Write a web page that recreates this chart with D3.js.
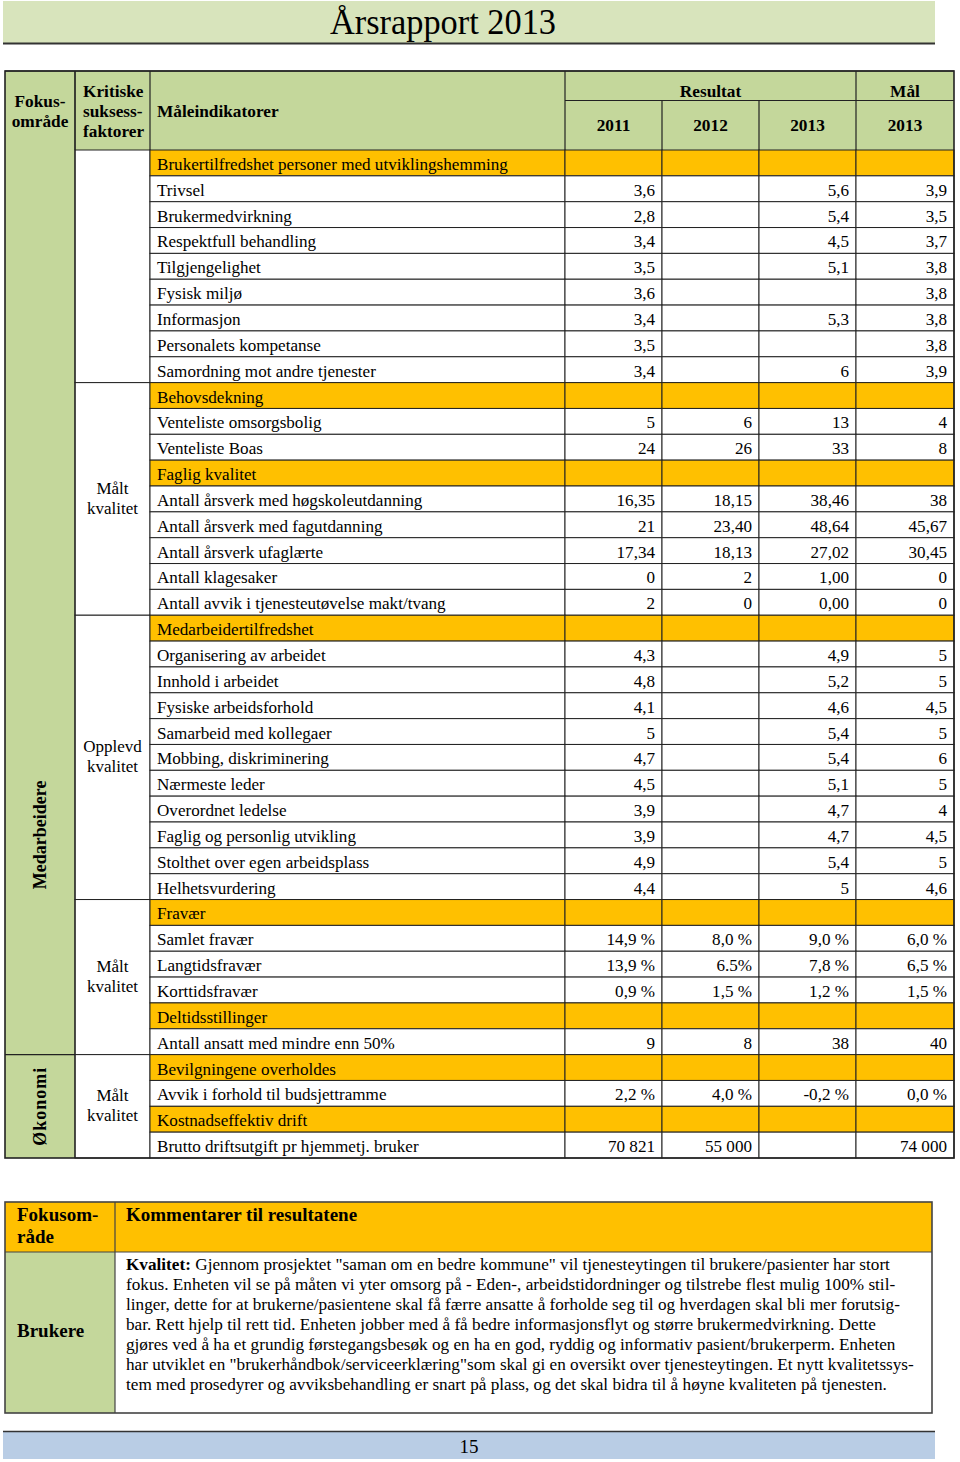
<!DOCTYPE html>
<html>
<head>
<meta charset="utf-8">
<script src="https://d3js.org/d3.v7.min.js"></script>
<style>
  body { margin: 0; background: #fff; }
  svg { display: block; font-family: "Liberation Serif", "Times New Roman", serif; }
</style>
</head>
<body>
<svg width="960" height="1462"></svg>
<script>
// ---- data ----
var indicators = [
  "Brukertilfredshet personer med utviklingshemming",
  "Trivsel", "Brukermedvirkning", "Respektfull behandling", "Tilgjengelighet",
  "Fysisk miljø", "Informasjon", "Personalets kompetanse", "Samordning mot andre tjenester",
  "Behovsdekning",
  "Venteliste omsorgsbolig", "Venteliste Boas",
  "Faglig kvalitet",
  "Antall årsverk med høgskoleutdanning", "Antall årsverk med fagutdanning",
  "Antall årsverk ufaglærte", "Antall klagesaker", "Antall avvik i tjenesteutøvelse makt/tvang",
  "Medarbeidertilfredshet",
  "Organisering av arbeidet", "Innhold i arbeidet", "Fysiske arbeidsforhold",
  "Samarbeid med kollegaer", "Mobbing, diskriminering", "Nærmeste leder",
  "Overordnet ledelse", "Faglig og personlig utvikling", "Stolthet over egen arbeidsplass",
  "Helhetsvurdering",
  "Fravær",
  "Samlet fravær", "Langtidsfravær", "Korttidsfravær",
  "Deltidsstillinger",
  "Antall ansatt med mindre enn 50%",
  "Bevilgningene overholdes",
  "Avvik i forhold til budsjettramme",
  "Kostnadseffektiv drift",
  "Brutto driftsutgift pr hjemmetj. bruker"
];
var sectionRows = [0, 9, 12, 18, 29, 33, 35, 37];

var val2011 = ["", "3,6", "2,8", "3,4", "3,5", "3,6", "3,4", "3,5", "3,4",
  "", "5", "24", "", "16,35", "21", "17,34", "0", "2",
  "", "4,3", "4,8", "4,1", "5", "4,7", "4,5", "3,9", "3,9", "4,9", "4,4",
  "", "14,9 %", "13,9 %", "0,9 %", "", "9", "", "2,2 %", "", "70 821"];
var val2012 = ["", "", "", "", "", "", "", "", "",
  "", "6", "26", "", "18,15", "23,40", "18,13", "2", "0",
  "", "", "", "", "", "", "", "", "", "", "",
  "", "8,0 %", "6.5%", "1,5 %", "", "8", "", "4,0 %", "", "55 000"];
var val2013 = ["", "5,6", "5,4", "4,5", "5,1", "", "5,3", "", "6",
  "", "13", "33", "", "38,46", "48,64", "27,02", "1,00", "0,00",
  "", "4,9", "5,2", "4,6", "5,4", "5,4", "5,1", "4,7", "4,7", "5,4", "5",
  "", "9,0 %", "7,8 %", "1,2 %", "", "38", "", "-0,2 %", "", ""];
var mal2013 = ["", "3,9", "3,5", "3,7", "3,8", "3,8", "3,8", "3,8", "3,9",
  "", "4", "8", "", "38", "45,67", "30,45", "0", "0",
  "", "5", "5", "4,5", "5", "6", "5", "4", "4,5", "5", "4,6",
  "", "6,0 %", "6,5 %", "1,5 %", "", "40", "", "0,0 %", "", "74 000"];

var yearLabels = ["2011", "2012", "2013", "2013"];

// success factor groups: [first row, last row, label lines]
var factorGroups = [
  [0, 8, []],
  [9, 17, ["Målt", "kvalitet"]],
  [18, 28, ["Opplevd", "kvalitet"]],
  [29, 34, ["Målt", "kvalitet"]],
  [35, 38, ["Målt", "kvalitet"]]
];
// focus areas: [first row, last row, label, label centre rows]
var focusAreas = [
  [0, 34, "Medarbeidere", [18, 34]],
  [35, 38, "Økonomi", [35, 38]]
];

var commentLines = [
  " Gjennom prosjektet \"saman om en bedre kommune\" vil tjenesteytingen til brukere/pasienter har stort",
  "fokus. Enheten vil se på måten vi yter omsorg på - Eden-, arbeidstidordninger og tilstrebe flest mulig 100% stil-",
  "linger, dette for at brukerne/pasientene skal få færre ansatte å forholde seg til og hverdagen skal bli mer forutsig-",
  "bar. Rett hjelp til rett tid. Enheten jobber med å få bedre informasjonsflyt og større brukermedvirkning. Dette",
  "gjøres ved å ha et grundig førstegangsbesøk og en ha en god, ryddig og informativ pasient/brukerperm. Enheten",
  "har utviklet en \"brukerhåndbok/serviceerklæring\"som skal gi en oversikt over tjenesteytingen. Et nytt kvalitetssys-",
  "tem med prosedyrer og avviksbehandling er snart på plass, og det skal bidra til å høyne kvaliteten på tjenesten."
];

// ---- layout ----
var GREEN = "#c4d79b", ORANGE = "#ffc000", LINE = "#222";
var svg = d3.select("svg");

// column edges
var cx = [5, 75, 150, 565, 662, 759, 856, 954];
var y = d3.scaleBand()
    .domain(d3.range(indicators.length))
    .range([150, 1158]);
var rh = y.bandwidth();

// title band
svg.append("rect").attr("x", 3).attr("y", 1).attr("width", 932).attr("height", 42)
    .attr("fill", "#d8e4bc");
svg.append("line").attr("x1", 3).attr("x2", 935).attr("y1", 43.5).attr("y2", 43.5)
    .attr("stroke", "#333").attr("stroke-width", 2);
svg.append("text").attr("x", 443).attr("y", 34).attr("text-anchor", "middle")
    .attr("font-size", 36).attr("textLength", 226).attr("lengthAdjust", "spacingAndGlyphs")
    .text("Årsrapport 2013");

// header
var head = svg.append("g");
head.append("rect").attr("x", cx[0]).attr("y", 71).attr("width", cx[7] - cx[0]).attr("height", 79)
    .attr("fill", GREEN);
function hText(x, yy, s, anchor) {
  head.append("text").attr("x", x).attr("y", yy).attr("font-weight", "bold")
      .attr("font-size", 17.3).attr("text-anchor", anchor || "start").text(s);
}
hText(40, 107, "Fokus-", "middle");
hText(40, 127, "område", "middle");
hText(83, 97, "Kritiske");
hText(83, 117, "suksess-");
hText(83, 137, "faktorer");
hText(157, 117, "Måleindikatorer");
hText((cx[3] + cx[6]) / 2, 97, "Resultat", "middle");
hText((cx[6] + cx[7]) / 2, 97, "Mål", "middle");
yearLabels.forEach(function(s, i) {
  hText((cx[3 + i] + cx[4 + i]) / 2, 131, s, "middle");
});
var hl = [[cx[0], cx[7], 71, 71], [cx[3], cx[7], 100.5, 100.5]];
[1, 2, 3, 6].forEach(function(i) { hl.push([cx[i], cx[i], 71, 150]); });
[4, 5].forEach(function(i) { hl.push([cx[i], cx[i], 100.5, 150]); });
head.selectAll("line").data(hl).enter().append("line")
    .attr("x1", function(d) { return d[0]; }).attr("x2", function(d) { return d[1]; })
    .attr("y1", function(d) { return d[2]; }).attr("y2", function(d) { return d[3]; })
    .attr("stroke", LINE).attr("stroke-width", 1.2);

// focus area column
var fa = svg.append("g");
fa.append("rect").attr("x", cx[0]).attr("y", y(0)).attr("width", cx[1] - cx[0])
    .attr("height", y(indicators.length - 1) + rh - y(0)).attr("fill", GREEN);
focusAreas.forEach(function(f) {
  var c = (y(f[3][0]) + y(f[3][1]) + rh) / 2;
  fa.append("text").attr("transform", "translate(46," + c + ") rotate(-90)")
      .attr("text-anchor", "middle").attr("font-weight", "bold").attr("font-size", 18)
      .attr("letter-spacing", f[2] === "Økonomi" ? 1 : 0)
      .text(f[2]);
});

// success factor column
var fg = svg.append("g");
factorGroups.forEach(function(g) {
  var top = y(g[0]), bot = y(g[1]) + rh;
  fg.append("rect").attr("x", cx[1]).attr("y", top).attr("width", cx[2] - cx[1])
      .attr("height", bot - top).attr("fill", "#fff").attr("stroke", LINE).attr("stroke-width", 1);
  g[2].forEach(function(s, i) {
    fg.append("text").attr("x", (cx[1] + cx[2]) / 2)
        .attr("y", (top + bot) / 2 + 5 + (i - (g[2].length - 1) / 2) * 20)
        .attr("text-anchor", "middle").attr("font-size", 17).text(s);
  });
});
fa.append("line").attr("x1", cx[0]).attr("x2", cx[1]).attr("y1", y(35)).attr("y2", y(35))
    .attr("stroke", LINE).attr("stroke-width", 1.2);

// data rows
var rows = svg.append("g").selectAll("g")
    .data(indicators.map(function(s, i) {
      return { label: s, i: i, section: sectionRows.indexOf(i) >= 0,
               vals: [val2011[i], val2012[i], val2013[i], mal2013[i]] };
    }))
    .enter().append("g")
    .attr("transform", function(d) { return "translate(0," + y(d.i) + ")"; });

rows.selectAll("rect").data(function(d) {
      return d3.range(2, 7).map(function(c) { return { c: c, section: d.section }; });
    })
    .enter().append("rect")
    .attr("x", function(d) { return cx[d.c]; })
    .attr("width", function(d) { return cx[d.c + 1] - cx[d.c]; })
    .attr("height", rh)
    .attr("fill", function(d) { return d.section ? ORANGE : "#fff"; })
    .attr("stroke", LINE).attr("stroke-width", 1);

rows.append("text").attr("x", 157).attr("y", rh / 2 + 7)
    .attr("font-size", 17.1).text(function(d) { return d.label; });

rows.selectAll("text.v").data(function(d) { return d.vals; })
    .enter().append("text").attr("class", "v")
    .attr("x", function(d, i) { return cx[4 + i] - 7; })
    .attr("y", rh / 2 + 7).attr("text-anchor", "end").attr("font-size", 17.1)
    .text(function(d) { return d; });

// outer frame
svg.append("rect").attr("x", cx[0]).attr("y", 71).attr("width", cx[7] - cx[0])
    .attr("height", y(indicators.length - 1) + rh - 71)
    .attr("fill", "none").attr("stroke", LINE).attr("stroke-width", 1.6);
svg.append("line").attr("x1", cx[1]).attr("x2", cx[1]).attr("y1", 71).attr("y2", 1158)
    .attr("stroke", LINE).attr("stroke-width", 1.2);

// comments table
var ct = svg.append("g");
var kx = [5, 115, 932], ky = [1202, 1252, 1413];
ct.append("rect").attr("x", kx[0]).attr("y", ky[0]).attr("width", kx[2] - kx[0])
    .attr("height", ky[1] - ky[0]).attr("fill", ORANGE);
ct.append("rect").attr("x", kx[0]).attr("y", ky[1]).attr("width", kx[1] - kx[0])
    .attr("height", ky[2] - ky[1]).attr("fill", GREEN);
ct.append("rect").attr("x", kx[0]).attr("y", ky[0]).attr("width", kx[2] - kx[0])
    .attr("height", ky[2] - ky[0]).attr("fill", "none").attr("stroke", "#444").attr("stroke-width", 1.6);
ct.append("line").attr("x1", kx[1]).attr("x2", kx[1]).attr("y1", ky[0]).attr("y2", ky[2])
    .attr("stroke", "#444").attr("stroke-width", 1.2);
ct.append("line").attr("x1", kx[0]).attr("x2", kx[2]).attr("y1", ky[1]).attr("y2", ky[1])
    .attr("stroke", "#444").attr("stroke-width", 1.2);
function cText(x, yy, s) {
  ct.append("text").attr("x", x).attr("y", yy).attr("font-weight", "bold")
      .attr("font-size", 19).text(s);
}
cText(17, 1221, "Fokusom-");
cText(17, 1243, "råde");
cText(126, 1221, "Kommentarer til resultatene");
cText(17, 1337, "Brukere");
ct.selectAll("text.c").data(commentLines).enter().append("text").attr("class", "c")
    .attr("x", 126).attr("y", function(d, i) { return 1270 + i * 20; })
    .attr("font-size", 17.2)
    .each(function(d, i) {
      var t = d3.select(this);
      if (i === 0) t.append("tspan").attr("font-weight", "bold").text("Kvalitet:");
      t.append("tspan").text(d);
    });

// footer
svg.append("rect").attr("x", 3).attr("y", 1431).attr("width", 932).attr("height", 28)
    .attr("fill", "#b9cde5");
svg.append("line").attr("x1", 3).attr("x2", 935).attr("y1", 1431.5).attr("y2", 1431.5)
    .attr("stroke", "#333").attr("stroke-width", 1.5);
svg.append("text").attr("x", 469).attr("y", 1453).attr("text-anchor", "middle")
    .attr("font-size", 19).text("15");
</script>
</body>
</html>
